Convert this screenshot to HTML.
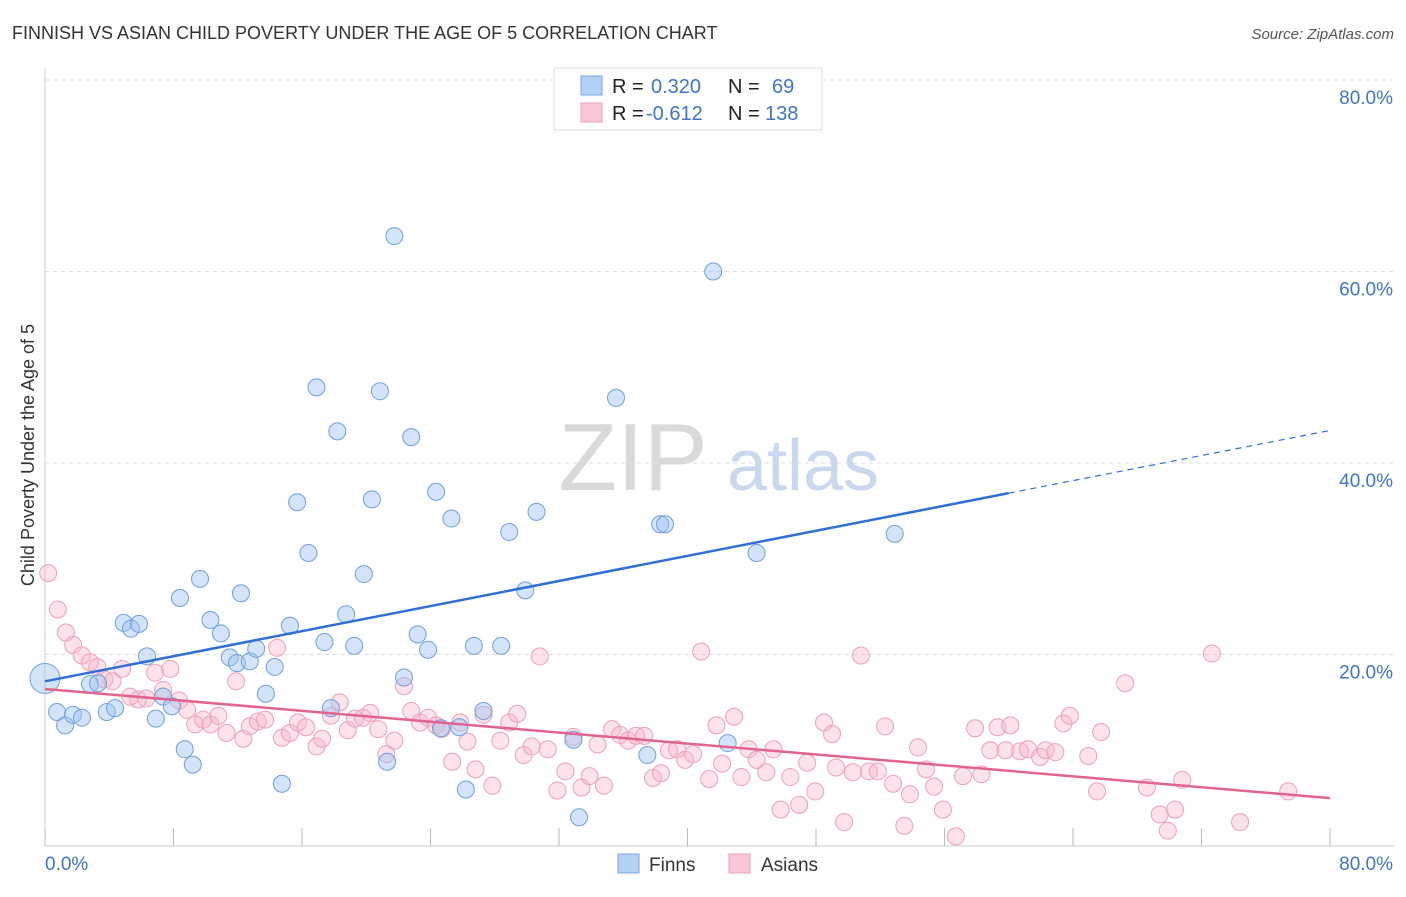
<!DOCTYPE html>
<html><head><meta charset="utf-8"><style>
body{margin:0;background:#fff;font-family:"Liberation Sans",sans-serif;}
svg text{font-family:"Liberation Sans",sans-serif;}
</style></head><body>
<svg id="chart" width="1406" height="892" viewBox="0 0 1406 892">
<text x="12" y="39" font-size="18" fill="#333">FINNISH VS ASIAN CHILD POVERTY UNDER THE AGE OF 5 CORRELATION CHART</text>
<text x="1394" y="39" font-size="15" fill="#555" text-anchor="end" font-style="italic">Source: ZipAtlas.com</text>
<g>
<text x="633" y="490" font-size="96" fill="#d9d9d9" font-family="Liberation Serif, serif" text-anchor="middle">ZIP</text>
<text x="803" y="490" font-size="72" fill="#c8d8ee" text-anchor="middle">atlas</text>
</g>
<g id="grid"></g>
<g id="axes"></g>
<g id="pts"></g>
<g id="lines"></g>
<text transform="translate(34,455) rotate(-90)" font-size="18" fill="#333" text-anchor="middle">Child Poverty Under the Age of 5</text>
<g>
<rect x="554" y="68" width="268" height="62" fill="#fff" stroke="#ddd"/>
<rect x="581" y="76" width="21" height="19" fill="#b4d0f4" stroke="#7aa6e0"/>
<rect x="581" y="103" width="21" height="19" fill="#f9c6d6" stroke="#eda0b8"/>
<text x="612" y="93" font-size="20" fill="#222">R =</text>
<text x="651" y="93" font-size="20" fill="#3f74c9">0.320</text>
<text x="728" y="93" font-size="20" fill="#222">N =</text>
<text x="772" y="93" font-size="20" fill="#3f74c9">69</text>
<text x="612" y="120" font-size="20" fill="#222">R =</text>
<text x="646" y="120" font-size="20" fill="#3f74c9">-0.612</text>
<text x="728" y="120" font-size="20" fill="#222">N =</text>
<text x="765" y="120" font-size="20" fill="#3f74c9">138</text>
</g>
<g>
<rect x="618" y="854" width="21" height="19" fill="#b4d0f4" stroke="#7aa6e0"/>
<text x="649" y="871" font-size="19" fill="#333">Finns</text>
<rect x="729" y="854" width="21" height="19" fill="#f9c6d6" stroke="#eda0b8"/>
<text x="761" y="871" font-size="19" fill="#333">Asians</text>
</g>
</svg>
<script>
const xTicks=[0,8,16,24,32,40,48,56,64,72,80];
const yTicks=[20,40,60,80];
const yTickLabels=["20.0%","40.0%","60.0%","80.0%"];
const xEndLabels=["0.0%","80.0%"];
const finnsX=[0,0.75,1.25,1.74,2.3,2.8,3.3,3.85,4.36,4.9,5.35,5.85,6.35,6.9,7.35,7.9,8.4,8.7,9.2,9.65,10.3,10.95,11.5,11.95,12.2,12.75,13.15,13.75,14.3,14.75,15.25,15.7,16.4,16.9,17.4,17.8,18.2,18.75,19.25,19.85,20.35,20.85,21.3,21.75,22.35,22.8,23.2,23.85,24.35,24.65,25.3,25.8,26.2,26.7,27.3,28.4,28.9,29.9,30.6,32.9,33.25,35.55,37.5,38.3,38.6,41.6,42.5,44.3,52.9];
const finnsY=[17.5,14.0,12.6,13.7,13.4,16.9,17.0,14.0,14.4,23.3,22.7,23.2,19.8,13.3,15.6,14.6,25.9,10.1,8.5,27.9,23.6,22.2,19.7,19.1,26.4,19.3,20.6,15.9,18.7,6.5,23.0,35.9,30.6,47.9,21.3,14.4,43.3,24.2,20.9,28.4,36.2,47.5,8.8,63.7,17.6,42.7,22.1,20.5,37.0,12.3,34.2,12.4,5.9,20.9,14.1,20.9,32.8,26.7,34.9,11.1,3.0,46.8,9.5,33.6,33.6,60.0,10.75,30.6,32.6];
const asiansX=[0.2,0.8,1.3,1.75,2.3,2.8,3.25,3.7,4.2,4.8,5.3,5.8,6.3,6.85,7.35,7.8,8.35,8.85,9.35,9.85,10.3,10.8,11.3,11.9,12.35,12.75,13.25,13.7,14.45,14.75,15.25,15.75,16.25,16.9,17.25,17.8,18.35,18.85,19.3,19.8,20.25,20.75,21.25,21.75,22.35,22.8,23.35,23.85,24.35,24.7,25.35,25.85,26.3,26.8,27.3,27.85,28.35,28.9,29.4,29.8,30.3,30.8,31.3,31.9,32.4,32.9,33.4,33.9,34.4,34.8,35.3,35.8,36.3,36.8,37.3,37.85,38.35,38.85,39.35,39.85,40.35,40.85,41.35,41.8,42.15,42.9,43.35,43.8,44.3,44.9,45.35,45.8,46.4,46.95,47.45,47.95,48.5,49.0,49.25,49.75,50.3,50.8,51.3,51.85,52.3,52.8,53.5,53.85,54.35,54.85,55.35,55.9,56.7,57.15,57.9,58.3,58.85,59.3,59.8,60.1,60.7,61.2,61.95,62.3,62.9,63.4,63.8,64.95,65.5,65.75,67.25,68.6,69.4,69.9,70.35,70.8,72.65,74.4,77.4];
const asiansY=[28.5,24.7,22.3,21.0,19.9,19.2,18.7,17.4,17.2,18.5,15.6,15.3,15.4,18.1,16.3,18.5,15.2,14.2,12.7,13.2,12.7,13.6,11.8,17.2,11.2,12.5,13.0,13.2,20.7,11.3,11.8,12.9,12.4,10.4,11.2,13.6,15.0,12.1,13.3,13.4,13.9,12.2,9.6,11.0,16.7,14.1,12.9,13.4,12.6,12.2,8.8,12.9,10.9,8.0,13.7,6.3,11.0,12.9,13.8,9.5,10.4,19.8,10.1,5.8,7.8,11.4,6.1,7.3,10.6,6.3,12.2,11.6,11.0,11.5,11.5,7.1,7.6,10.0,10.1,9.0,9.6,20.3,7.0,12.6,8.6,13.5,7.2,10.1,9.0,7.7,10.1,3.8,7.2,4.3,8.7,5.7,12.9,11.7,8.2,2.5,7.7,19.9,7.8,7.8,12.5,6.5,2.1,5.4,10.3,8.0,6.2,3.8,1.0,7.3,12.3,7.5,10.0,12.4,10.0,12.6,9.9,10.1,9.3,10.0,9.8,12.8,13.6,9.4,5.7,11.9,17.0,6.1,3.3,1.6,3.8,6.9,20.1,2.5,5.7];
const finnsTrend=[17.2,43.4];
const asiansTrend=[16.4,5.0];
const solidEndX=60;

const NS="http://www.w3.org/2000/svg";
const X=v=>45+v*(1285/80);
const Y=v=>846-v*(766/80);
function mk(parent,tag,attrs){const e=document.createElementNS(NS,tag);for(const k in attrs)e.setAttribute(k,attrs[k]);document.getElementById(parent).appendChild(e);return e;}

yTicks.forEach((t,i)=>{
 const g=mk('grid','line',{x1:45,x2:1394,y1:Y(t),y2:Y(t),stroke:'#ddd','stroke-dasharray':'4,4'});
 
 
 const tx=mk('axes','text',{x:1393,y:Y(t)+24,'font-size':19,fill:'#3f74c9','text-anchor':'end'});
 tx.textContent=yTickLabels[i];
 
 
});
const ax=mk('axes','line',{x1:45,x2:45,y1:68,y2:846,stroke:'#ccc'});


const bx=mk('axes','line',{x1:45,x2:1394,y1:846,y2:846,stroke:'#ccc'});


xTicks.forEach(t=>{
 const l=mk('axes','line',{x1:X(t),x2:X(t),y1:828,y2:846,stroke:'#bbb'});
 
 
});
const xl0=mk('axes','text',{x:45,y:870,'font-size':19,fill:'#3f74c9'});
xl0.textContent=xEndLabels[0];


const xl1=mk('axes','text',{x:1393,y:870,'font-size':19,fill:'#3f74c9','text-anchor':'end'});
xl1.textContent=xEndLabels[1];



asiansX.forEach((v,i)=>{
 const c=mk('pts','circle',{cx:X(v),cy:Y(asiansY[i]),r:8.5,fill:'rgba(248,182,202,0.4)',stroke:'#eda0b8','stroke-width':1});
 
 
});
finnsX.forEach((v,i)=>{
 const c=mk('pts','circle',{cx:X(v),cy:Y(finnsY[i]),r:i===0?15:8.5,fill:'rgba(160,196,240,0.45)',stroke:'#6f9fdc','stroke-width':1});
 
 
});
const fy=x=>finnsTrend[0]+(finnsTrend[1]-finnsTrend[0])*x/80;
const f1=mk('lines','line',{x1:X(0),y1:Y(fy(0)),x2:X(solidEndX),y2:Y(fy(solidEndX)),stroke:'#2f6fd6','stroke-width':2.5});


const f2=mk('lines','line',{x1:X(solidEndX),y1:Y(fy(solidEndX)),x2:X(80),y2:Y(fy(80)),stroke:'#2f6fd6','stroke-width':1.2,'stroke-dasharray':'6,5'});


const a1=mk('lines','line',{x1:X(0),y1:Y(asiansTrend[0]),x2:X(80),y2:Y(asiansTrend[1]),stroke:'#e0648f','stroke-width':2.5});


</script>
</body></html>
